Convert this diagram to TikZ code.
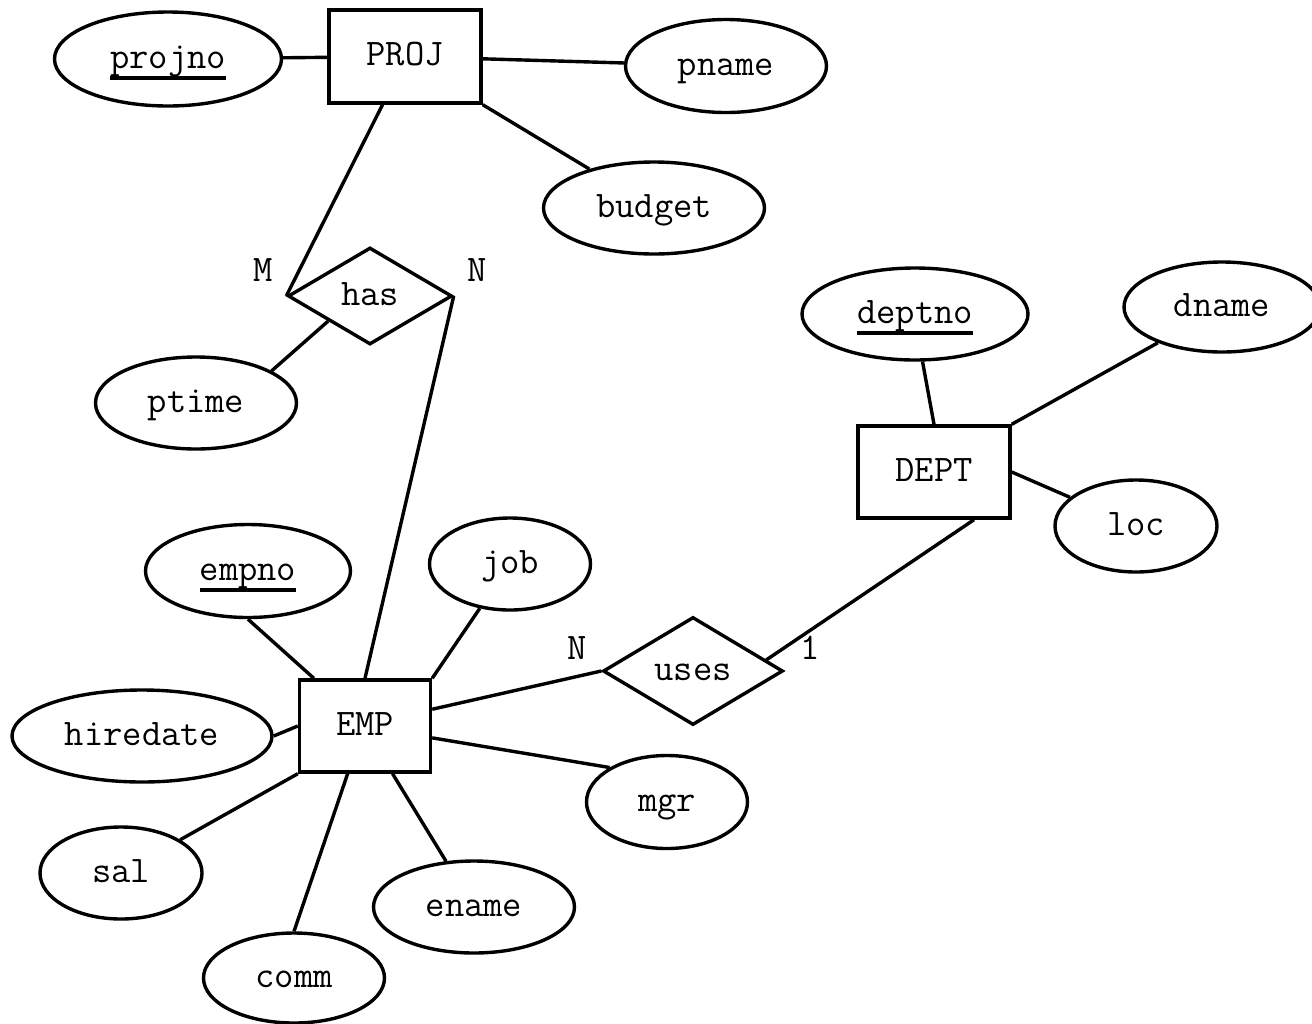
\documentclass[tikz,border=0pt]{standalone}
\usepackage{fontspec}
\usetikzlibrary{shapes.geometric,calc}
\newcommand\keyu[1]{\setbox0\hbox{#1}\rlap{\vrule height -8pt depth 11.5pt width \wd0}\box0}
\begin{document}
\begin{tikzpicture}[x=1pt,y=-1pt,line width=3.4pt,
  every node/.style={font=\ttfamily\fontsize{37.5}{40}\selectfont,text height=24pt,text depth=6pt,inner sep=0pt},
  entity/.style={draw,rectangle},
  attr/.style={draw,ellipse},
  rel/.style={draw,diamond},
  card/.style={}]
\useasboundingbox (0,0) rectangle (1312,1023);
% entities
\node[entity,minimum width=152pt,minimum height=93pt] (proj) at (405,56.5) {PROJ};
\node[entity,minimum width=152pt,minimum height=92pt] (dept) at (934,472) {DEPT};
\node[entity,minimum width=131pt,minimum height=92pt] (emp) at (365,726) {EMP};
% relationships
\node[rel,minimum width=164pt,minimum height=97pt] (has) at (370,296) {has};
\node[rel,minimum width=180pt,minimum height=108pt] (uses) at (693,671) {uses};
% attributes
\node[attr,minimum width=227pt,minimum height=94pt] (projno) at (168,59) {\keyu{projno}};
\node[attr,minimum width=201pt,minimum height=93pt] (pname) at (726,66) {pname};
\node[attr,minimum width=221pt,minimum height=92pt] (budget) at (654,208) {budget};
\node[attr,minimum width=201pt,minimum height=92pt] (ptime) at (196,403) {ptime};
\node[attr,minimum width=226pt,minimum height=92pt] (deptno) at (915,314) {\keyu{deptno}};
\node[attr,minimum width=196pt,minimum height=90pt] (dname) at (1222,307) {dname};
\node[attr,minimum width=162pt,minimum height=92pt] (loc) at (1136,526) {loc};
\node[attr,minimum width=205pt,minimum height=93pt] (empno) at (248,571) {\keyu{empno}};
\node[attr,minimum width=161pt,minimum height=92pt] (job) at (510,564) {job};
\node[attr,minimum width=260pt,minimum height=92pt] (hiredate) at (142,736) {hiredate};
\node[attr,minimum width=161pt,minimum height=93pt] (mgr) at (667,802) {mgr};
\node[attr,minimum width=162pt,minimum height=92pt] (sal) at (121,873) {sal};
\node[attr,minimum width=201pt,minimum height=92pt] (ename) at (474,907) {ename};
\node[attr,minimum width=181pt,minimum height=90pt] (comm) at (294,978) {comm};
% cardinalities
\node[card] (cm) at (263,272) {M};
\node[card] (cn1) at (477,272) {N};
\node[card] (cn2) at (577,650) {N};
\node[card] (c1) at (810,650) {1};
% connectors
\draw (projno) -- (proj);
\draw (proj) -- (pname);
\draw (proj.south east) -- (budget);
\draw (proj.245) -- (has.west);
\draw (has.east) -- (emp.north);
\coordinate (hasSW) at ($(has.west)!0.5!(has.south)$);
\draw (hasSW) -- (ptime.23);
\draw (deptno.279) -- (dept.north);
\draw (dept.north east) -- (dname);
\draw (dept.east) -- (loc);
\coordinate (usesNE) at ($(uses.east)!0.2!(uses.north)$);
\draw (dept.310) -- (usesNE);
\draw (emp.14) -- (uses.west);
\draw (emp.-10) -- (mgr.149);
\draw (emp.-60) -- (ename);
\draw (emp.-110) -- (comm.north);
\draw (emp.south west) -- (sal);
\draw (emp.west) -- (hiredate.east);
\draw (emp.137) -- (empno.south);
\draw (emp.north east) -- (job);
\end{tikzpicture}
\end{document}
